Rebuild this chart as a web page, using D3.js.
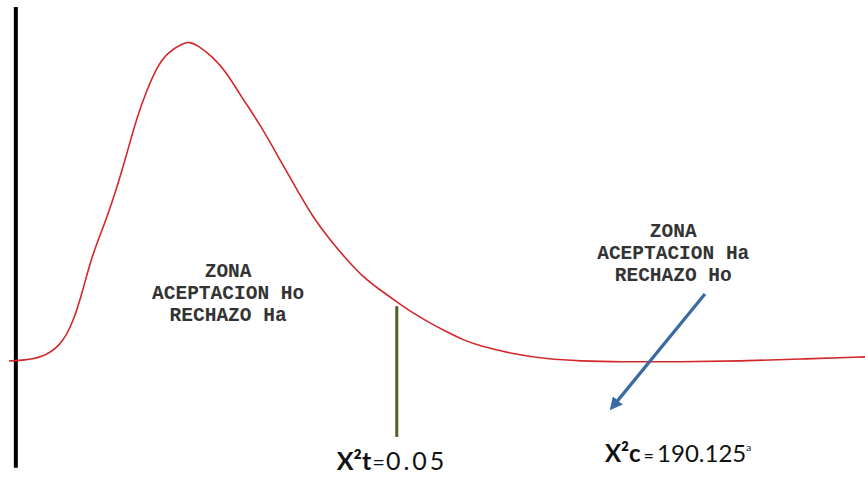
<!DOCTYPE html>
<html>
<head>
<meta charset="utf-8">
<script src="https://cdn.jsdelivr.net/npm/d3@7"></script>
<style>
  body { margin: 0; background: #fff; }
  svg { display: block; }
</style>
</head>
<body>
<script>
// curve (x in chart units 0-100, y = relative density, peak = 1)
var curveX = [0, 1.87, 3.62, 5.96, 7.48, 8.64, 9.46, 10.28, 11.45, 12.62, 13.79, 14.95,
              16.12, 17.29, 18.46, 20.33, 21.14, 21.96, 23.83, 25.47, 26.99, 29.32,
              31.66, 34.0, 35.51, 37.5, 39.49, 41.36, 43.34, 45.33, 47.2, 49.18, 51.17,
              53.04, 55.02, 58.88, 62.85, 66.71, 71.38, 78.39, 85.4, 92.41, 100];
var curveY = [0, 0.003, 0.009, 0.044, 0.119, 0.223, 0.307, 0.37, 0.451, 0.545, 0.652, 0.765,
              0.85, 0.922, 0.966, 0.997, 1.0, 0.991, 0.953, 0.903, 0.834, 0.743,
              0.63, 0.52, 0.451, 0.379, 0.317, 0.263, 0.223, 0.185, 0.15, 0.119, 0.091,
              0.066, 0.047, 0.022, 0.006, 0, -0.003, -0.003, 0, 0.006, 0.013];

var axisX = 0.8;
var critX = 45.3;          // X²t
var critRange = [0.172, -0.238];
var arrowFrom = [81.3, 0.21];
var arrowTo = [70.2, -0.154];

var leftZone = ["ZONA", "ACEPTACION Ho", "RECHAZO Ha"];
var rightZone = ["ZONA", "ACEPTACION Ha", "RECHAZO Ho"];
var leftLabel = ["X²t", "=", "0.05"];
var rightLabel = ["X²c", "=", "190.125", "a"];

var w = 865;
var h = 477;

var x = d3.scaleLinear().domain([0, 100]).range([9, 865]);
var y = d3.scaleLinear().domain([0, 1]).range([361, 42]);

var svg = d3.select("body")
    .append("svg")
    .attr("width", w)
    .attr("height", h);

// vertical axis
svg.append("line")
   .attr("x1", x(axisX)).attr("x2", x(axisX))
   .attr("y1", y(1.11)).attr("y2", y(-0.335))
   .attr("stroke", "#000")
   .attr("stroke-width", 4);

// density curve
var line = d3.line()
    .x(function(d) { return x(d[0]); })
    .y(function(d) { return y(d[1]); })
    .curve(d3.curveBasis);

svg.append("path")
   .datum(d3.zip(curveX, curveY))
   .attr("d", line)
   .attr("fill", "none")
   .attr("stroke", "#d2282c")
   .attr("stroke-width", 1.6);

// critical value line
svg.append("line")
   .attr("x1", x(critX)).attr("x2", x(critX))
   .attr("y1", y(critRange[0])).attr("y2", y(critRange[1]))
   .attr("stroke", "#4f6228")
   .attr("stroke-width", 3);

// blue arrow
svg.append("defs").append("marker")
   .attr("id", "head")
   .attr("viewBox", "0 0 10 10")
   .attr("refX", 2).attr("refY", 5)
   .attr("markerWidth", 4).attr("markerHeight", 4)
   .attr("orient", "auto")
   .append("path")
   .attr("d", "M0,0 L10,5 L0,10 z")
   .attr("fill", "#3a6aa3");

var ax = x(arrowTo[0]) - x(arrowFrom[0]);
var ay = y(arrowTo[1]) - y(arrowFrom[1]);
var alen = Math.sqrt(ax * ax + ay * ay);
svg.append("line")
   .attr("x1", x(arrowFrom[0])).attr("y1", y(arrowFrom[1]))
   .attr("x2", x(arrowTo[0]) - ax / alen * 10).attr("y2", y(arrowTo[1]) - ay / alen * 10)
   .attr("stroke", "#3a6aa3")
   .attr("stroke-width", 3.2)
   .attr("marker-end", "url(#head)");

// zone texts
function zone(lines, cx, cy) {
    svg.append("g").selectAll("text")
       .data(lines)
       .enter()
       .append("text")
       .text(function(d) { return d; })
       .attr("x", x(cx))
       .attr("y", function(d, i) { return y(cy) + i * 22; })
       .attr("text-anchor", "middle")
       .attr("font-family", "'Liberation Mono', 'DejaVu Sans Mono', monospace")
       .attr("font-size", "19.5px")
       .attr("font-weight", "bold")
       .attr("fill", "#333");
}
zone(leftZone, 25.6, 0.263);
zone(rightZone, 77.6, 0.388);

// bottom labels
var lt = svg.append("text")
   .attr("x", x(critX) - 60)
   .attr("y", 470)
   .attr("font-family", "Lato, 'Liberation Sans', sans-serif")
   .attr("font-size", "25px")
   .attr("fill", "#111");
lt.append("tspan").attr("font-weight", "bold").text(leftLabel[0]);
lt.append("tspan").attr("font-size", "22px").attr("dx", 1).text(leftLabel[1]);
lt.append("tspan").attr("letter-spacing", "3px").attr("dx", 1).text(leftLabel[2]);

var rt = svg.append("text")
   .attr("x", x(arrowTo[0]) - 5)
   .attr("y", 462)
   .attr("font-family", "Lato, 'Liberation Sans', sans-serif")
   .attr("font-size", "24px")
   .attr("fill", "#111");
rt.append("tspan").attr("font-weight", "bold").text(rightLabel[0]);
rt.append("tspan").attr("font-size", "18px").attr("dx", 3).text(rightLabel[1]);
rt.append("tspan").attr("dx", 3).text(rightLabel[2]);
rt.append("tspan").attr("font-size", "10px").attr("dy", -11).text(rightLabel[3]);
</script>
</body>
</html>
